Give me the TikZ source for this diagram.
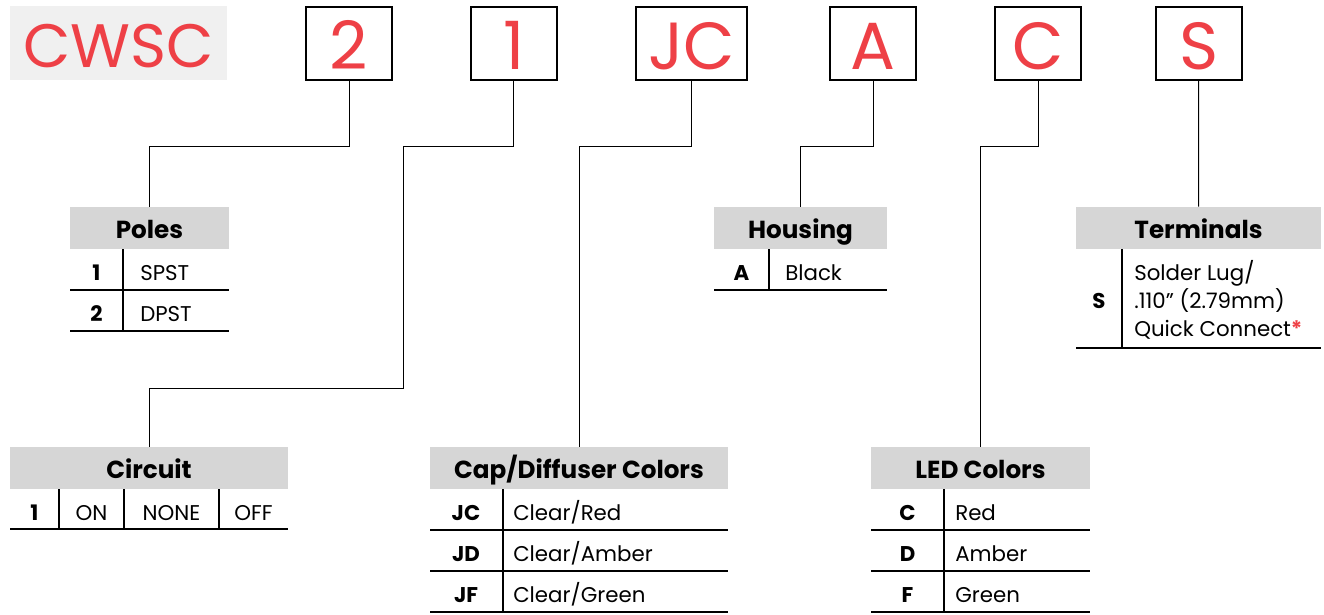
\documentclass[tikz,border=0pt]{standalone}
\usepackage{fontspec}
\setmainfont{Poppins}
\usetikzlibrary{positioning}
\definecolor{cwred}{RGB}{238,64,70}
\definecolor{headgray}{RGB}{214,214,214}
\definecolor{logogray}{RGB}{240,240,240}

\begin{document}
\begin{tikzpicture}[x=0.75pt, y=-0.75pt,
    codebox/.style={draw, line width=1.6pt, minimum width=64.5pt, inner sep=0pt,
        text height=46.5pt, text depth=8.25pt, text=cwred, font=\fontsize{50}{50}\selectfont},
    head/.style={fill=headgray, inner sep=0pt, text height=23.25pt, text depth=8.25pt,
        font=\fontsize{18.5}{19}\selectfont\bfseries},
    cell/.style={anchor=base, inner sep=0pt, font=\fontsize{16}{21}\selectfont},
    key/.style={cell, font=\fontsize{16}{21}\selectfont\bfseries},
    val/.style={cell, anchor=base west},
    rule/.style={line width=0.9pt},
    wire/.style={line width=0.75pt}]
    \useasboundingbox (0,0) rectangle (1324,614);

    % Bestellcode oben
    \node[fill=logogray, minimum width=162.75pt, inner sep=0pt, text height=45.75pt, text depth=9.75pt,
        text=cwred, font=\fontsize{46}{46}\selectfont] (logo) at (118.5,43) {CWSC};
    \node[codebox] (c2) at (349,43.5) {2};
    \node[codebox] (c1) at (513.7,43.5) {1};
    \node[codebox, minimum width=83.25pt] (cJC) at (691.5,43.5) {JC};
    \node[codebox] (cA) at (873,43.5) {A};
    \node[codebox] (cC) at (1038,43.5) {C};
    \node[codebox] (cS) at (1198.7,43.5) {S};

    % Tabellenkoepfe
    \node[head, minimum width=119.25pt] (poles) at (149.5,228) {Poles};
    \node[head, minimum width=129.75pt] (housing) at (800.5,228) {Housing};
    \node[head, minimum width=183.75pt] (terminals) at (1198.5,228) {Terminals};
    \node[head, minimum width=208.5pt] (circuit) at (149,468) {Circuit};
    \node[head, minimum width=223.5pt] (capdiff) at (579,468) {Cap/Diffuser Colors};
    \node[head, minimum width=164.25pt] (led) at (980.5,468) {LED Colors};

    % Verbindungen
    \coordinate (bend) at (403,388);
    \draw[wire] (c2.south) -- ++(0,65) -| (poles.north);
    \draw[wire] (c1.south) -- ++(0,65) -| (bend) -| (circuit.north);
    \draw[wire] (cJC.south) -- ++(0,65) -| (capdiff.north);
    \draw[wire] (cA.south) -- ++(0,65) -| (housing.north);
    \draw[wire] (cC.south) -- ++(0,65) -| (led.north);
    \draw[wire] (cS.south) -- (terminals.north);

    % Poles
    \node[key] (p1) at (96.5,280) {1};
    \node[val] (p1t) at (140,280) {SPST};
    \node[key] (p2) at (96.5,321) {2};
    \node[val] (p2t) at (140,321) {DPST};
    \draw[rule] (70,290) -- (229,290) (70,331) -- (229,331) (123,249) -- (123,331);

    % Housing
    \node[key] (h1) at (741.5,280) {A};
    \node[val] (h1t) at (785,280) {Black};
    \draw[rule] (714,290) -- (887,290) (769,249) -- (769,290);

    % Terminals
    \node[key] (t1) at (1099,308) {S};
    \node[val, anchor=west, align=left] (t1t) at (1134,300)
        {Solder Lug/\\.110\textquotedblright\ (2.79mm)\\Quick Connect{\color{cwred}\bfseries*}};
    \draw[rule] (1076,348) -- (1321,348) (1122,249) -- (1122,348);

    % Circuit
    \node[key] (r1) at (34.5,520) {1};
    \node[cell] (r1a) at (91.5,520) {ON};
    \node[cell] (r1b) at (171.5,520) {NONE};
    \node[cell] (r1c) at (253.5,520) {OFF};
    \draw[rule] (10,529) -- (288,529);
    \foreach \x in {59,124,219}
        \draw[rule] (\x,489) -- (\x,529);

    % Cap/Diffuser Colors
    \foreach \k/\t [count=\i] in {JC/Red, JD/Amber, JF/Green} {
        \node[key] (jk\i) at (466,479+41*\i) {\k};
        \node[val] (jt\i) at (513,479+41*\i) {Clear/\t};
        \draw[rule] (430,489+41*\i) -- (728,489+41*\i);
    }
    \draw[rule] (503,489) -- (503,612);

    % LED Colors
    \foreach \k/\t [count=\i] in {C/Red, D/Amber, F/Green} {
        \node[key] (lk\i) at (907.5,479+41*\i) {\k};
        \node[val] (lt\i) at (955,479+41*\i) {\t};
        \draw[rule] (871,489+41*\i) -- (1090,489+41*\i);
    }
    \draw[rule] (944,489) -- (944,612);
\end{tikzpicture}
\end{document}
